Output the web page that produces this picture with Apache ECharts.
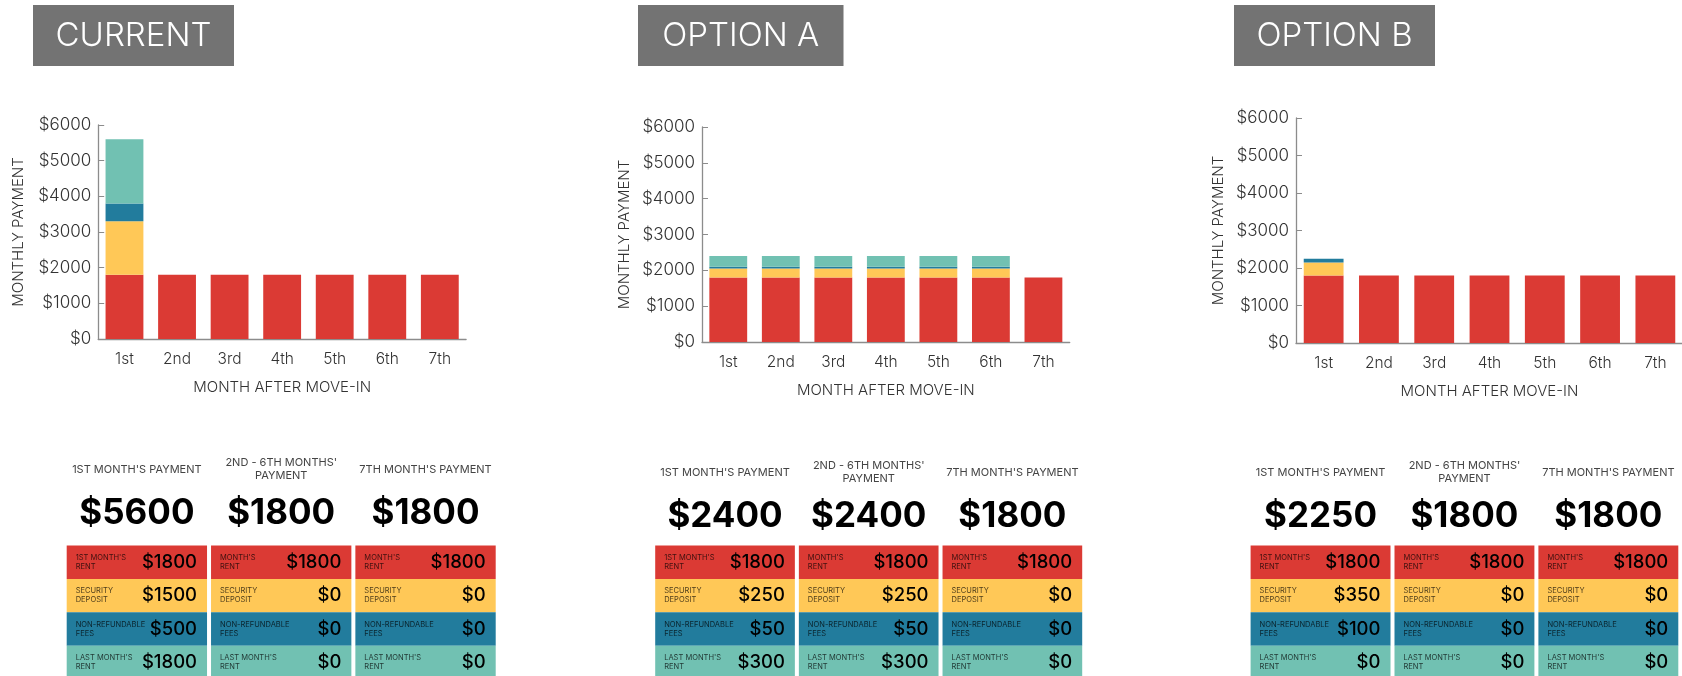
<!DOCTYPE html>
<html><head><meta charset="utf-8">
<script src="https://cdn.jsdelivr.net/npm/echarts@6/dist/echarts.min.js"></script>
<style>html,body{margin:0;padding:0;background:#fff}#main{width:1682px;height:676px}</style>
</head><body><div id="main"></div>
<script>
// ---------- DATA ----------
const months = ['1st', '2nd', '3rd', '4th', '5th', '6th', '7th'];
const panelTitles = ['CURRENT', 'OPTION A', 'OPTION B'];
const componentNames = ["Month's rent", 'Security deposit', 'Non-refundable fees', "Last month's rent"];

const currentRent     = [1800, 1800, 1800, 1800, 1800, 1800, 1800];
const currentDeposit  = [1500, 0, 0, 0, 0, 0, 0];
const currentFees     = [500, 0, 0, 0, 0, 0, 0];
const currentLastRent = [1800, 0, 0, 0, 0, 0, 0];

const optionARent     = [1800, 1800, 1800, 1800, 1800, 1800, 1800];
const optionADeposit  = [250, 250, 250, 250, 250, 250, 0];
const optionAFees     = [50, 50, 50, 50, 50, 50, 0];
const optionALastRent = [300, 300, 300, 300, 300, 300, 0];

const optionBRent     = [1800, 1800, 1800, 1800, 1800, 1800, 1800];
const optionBDeposit  = [350, 0, 0, 0, 0, 0, 0];
const optionBFees     = [100, 0, 0, 0, 0, 0, 0];
const optionBLastRent = [0, 0, 0, 0, 0, 0, 0];

const tableHeadings = ["1ST MONTH'S PAYMENT", "2ND - 6TH MONTHS'\nPAYMENT", "7TH MONTH'S PAYMENT"];
const tableMonthIndex = [0, 1, 6];
const firstColumnRowLabels = ["1ST MONTH'S\nRENT", "SECURITY\nDEPOSIT", "NON-REFUNDABLE\nFEES", "LAST MONTH'S\nRENT"];
const otherColumnRowLabels = ["MONTH'S\nRENT", "SECURITY\nDEPOSIT", "NON-REFUNDABLE\nFEES", "LAST MONTH'S\nRENT"];

const yMin = 0, yMax = 6000, yInterval = 1000;

// ---------- STYLE / LAYOUT ----------
const colors = ['#DB3A34', '#FFC857', '#227C9D', '#71C1B2'];
const panelData = [
  [currentRent, currentDeposit, currentFees, currentLastRent],
  [optionARent, optionADeposit, optionAFees, optionALastRent],
  [optionBRent, optionBDeposit, optionBFees, optionBLastRent]
];
const layout = [
  { title: { x: 33, w: 201 }, grid: { left: 98.2, top: 125, width: 367.9, height: 214 }, yNameGap: 72,
    table: { left: 64.7, top: 545.5, width: 433, height: 133.5 }, headMargin: 1 },
  { title: { x: 638, w: 205.5 }, grid: { left: 702, top: 127, width: 367.7, height: 215 }, yNameGap: 70,
    table: { left: 653.2, top: 545.5, width: 431, height: 133.5 }, headMargin: -2 },
  { title: { x: 1234, w: 201 }, grid: { left: 1296, top: 118, width: 387, height: 225 }, yNameGap: 70,
    table: { left: 1248.6, top: 545.5, width: 431.7, height: 133.5 }, headMargin: -2 }
];
const FONT = 'Inter';
const axisGray = '#8c8c8c';

const grids = [], xAxes = [], yAxes = [], series = [], graphics = [];

layout.forEach(L => grids.push(Object.assign({ outerBoundsMode: 'none', containLabel: false }, L.grid)));
layout.forEach(L => grids.push(Object.assign({ outerBoundsMode: 'none', containLabel: false }, L.table)));

// chart axes
layout.forEach((L, p) => {
  xAxes.push({
    type: 'category', gridIndex: p, data: months,
    name: 'MONTH AFTER MOVE-IN', nameLocation: 'middle', nameGap: 41,
    nameTextStyle: { fontFamily: FONT, fontSize: 15, color: '#333', fontWeight: 300 },
    axisLine: { lineStyle: { color: axisGray, width: 1.3 } },
    axisTick: { inside: true, length: 4, lineStyle: { color: axisGray } },
    axisLabel: { fontFamily: FONT, fontSize: 15.5, color: '#333', fontWeight: 300, margin: 12 },
    splitLine: { show: false }
  });
  yAxes.push({
    type: 'value', gridIndex: p, min: yMin, max: yMax, interval: yInterval,
    name: 'MONTHLY PAYMENT', nameLocation: 'middle', nameGap: L.yNameGap, nameRotate: 90,
    nameTextStyle: { fontFamily: FONT, fontSize: 15, color: '#333', fontWeight: 300 },
    axisLine: { show: true, lineStyle: { color: axisGray, width: 1.3 } },
    axisTick: { show: true, inside: true, length: 6, lineStyle: { color: axisGray } },
    axisLabel: { fontFamily: FONT, fontSize: 17, color: '#333', fontWeight: 300, margin: 7,
      formatter: v => '$' + v },
    splitLine: { show: false }
  });
});

// table axes
layout.forEach((L, p) => {
  const data = panelData[p];
  xAxes.push({
    type: 'category', gridIndex: 3 + p, position: 'top', data: tableHeadings.map((h, i) => String(i)),
    axisLine: { show: false }, axisTick: { show: false }, splitLine: { show: false },
    axisLabel: {
      interval: 0, margin: L.headMargin, hideOverlap: false, align: 'center',
      formatter: (val, idx) => {
        const lines = tableHeadings[idx].split('\n');
        const head = lines.length === 1 ? '{h1|' + lines[0] + '}' : lines.map(l => '{h2|' + l + '}').join('\n');
        const m = tableMonthIndex[idx];
        const total = data.reduce((s, arr) => s + arr[m], 0);
        return head + '\n{v|$' + total + '}';
      },
      rich: {
        h1: { fontFamily: FONT, fontSize: 11, lineHeight: 26, color: '#444', align: 'center' },
        h2: { fontFamily: FONT, fontSize: 11, lineHeight: 13, color: '#444', align: 'center' },
        v: { fontFamily: FONT, fontSize: 35, fontWeight: 'bold', lineHeight: 62, color: '#000', align: 'center' }
      }
    }
  });
  yAxes.push({
    type: 'category', gridIndex: 3 + p, inverse: true, data: componentNames,
    axisLine: { show: false }, axisTick: { show: false }, axisLabel: { show: false }, splitLine: { show: false }
  });
});

// bar series
panelData.forEach((arrs, p) => {
  arrs.forEach((arr, k) => {
    series.push({
      type: 'bar', name: componentNames[k], xAxisIndex: p, yAxisIndex: p, stack: 'p' + p,
      data: arr, barCategoryGap: '28%', itemStyle: { color: colors[k] },
      emphasis: { disabled: true }
    });
  });
});

// table series
panelData.forEach((arrs, p) => {
  const cells = [];
  tableMonthIndex.forEach((m, col) => {
    arrs.forEach((arr, row) => cells.push([col, row, arr[m]]));
  });
  series.push({
    type: 'custom', xAxisIndex: 3 + p, yAxisIndex: 3 + p, data: cells, encode: { x: 0, y: 1 },
    renderItem: (params, api) => {
      const col = api.value(0), row = api.value(1), val = api.value(2);
      const c = api.coord([col, row]);
      const s = api.size([1, 1]);
      const gap = 4;
      const w = s[0] - gap, h = s[1];
      const x = c[0] - w / 2, y = c[1] - h / 2;
      const label = (col === 0 ? firstColumnRowLabels : otherColumnRowLabels)[row];
      return {
        type: 'group',
        children: [
          { type: 'rect', shape: { x: x, y: y, width: w, height: h }, style: { fill: colors[row] } },
          { type: 'text', style: { text: label, x: x + 9, y: c[1], verticalAlign: 'middle', align: 'left',
              fontFamily: FONT, fontSize: 7.5, lineHeight: 9, fill: 'rgba(0,0,0,0.72)' } },
          { type: 'text', style: { text: '$' + val, x: x + w - 10, y: c[1], verticalAlign: 'middle', align: 'right',
              fontFamily: FONT, fontSize: 18.5, fontWeight: 500, fill: '#000' } }
        ]
      };
    }
  });
});

// title boxes
layout.forEach((L, p) => {
  graphics.push({
    type: 'group', left: L.title.x, top: 5,
    children: [
      { type: 'rect', shape: { x: 0, y: 0, width: L.title.w, height: 61 }, style: { fill: '#737373' } },
      { type: 'text', style: { text: panelTitles[p], x: L.title.w / 2, y: 31.5, align: 'center', verticalAlign: 'middle',
          fill: '#fff', fontFamily: FONT, fontSize: 33, fontWeight: 300 } }
    ]
  });
});

const chart = echarts.init(document.getElementById('main'), null, { renderer: 'canvas' });
chart.setOption({
  animation: false, backgroundColor: '#fff',
  grid: grids, xAxis: xAxes, yAxis: yAxes, series: series, graphic: graphics
});
</script></body></html>
